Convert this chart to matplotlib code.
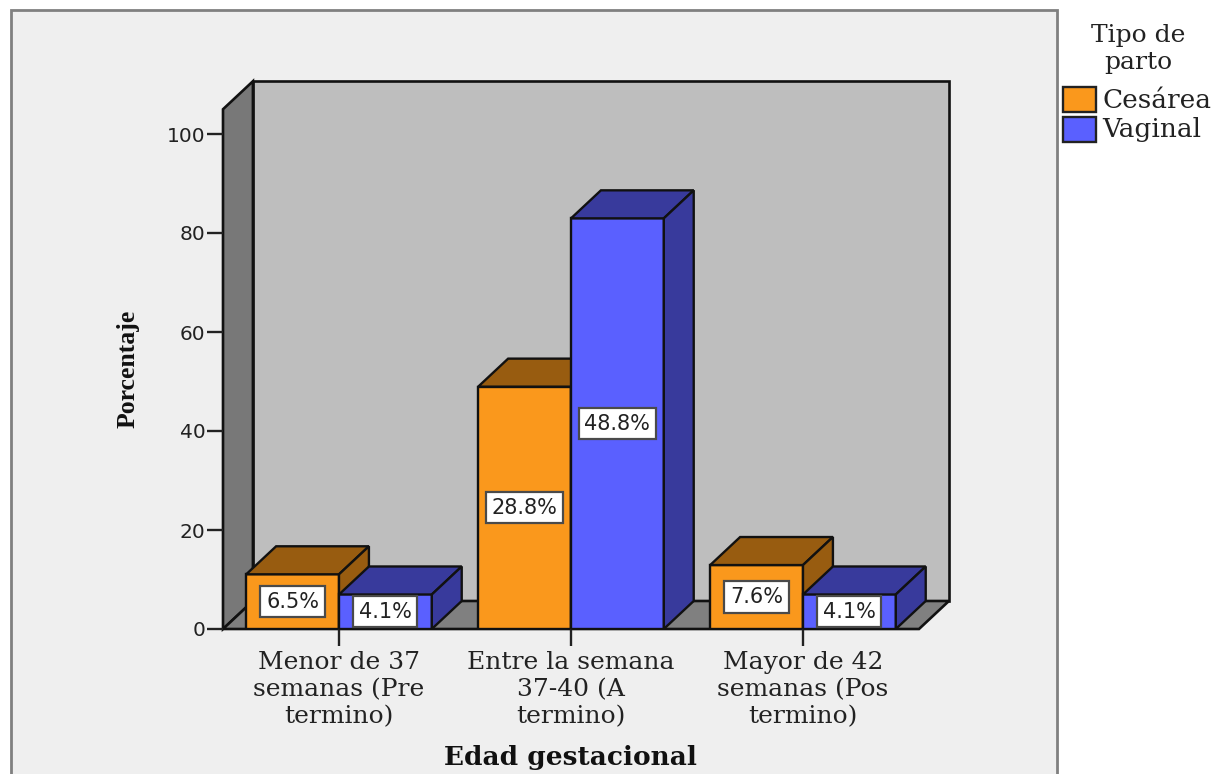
"""
plot.py

Pseudo-3D clustered bars: type of delivery by gestational age.
"""

import numpy as np
import matplotlib
matplotlib.use('Agg')
import matplotlib.pyplot as plt
from matplotlib.patches import Polygon, Rectangle

# ─── Data ─────────────────────────────────────────────────────────────────────
CATEGORIES = ['Menor de 37\nsemanas (Pre\ntermino)',
              'Entre la semana\n37-40 (A\ntermino)',
              'Mayor de 42\nsemanas (Pos\ntermino)']
SERIES_NAMES = ['Cesárea', 'Vaginal']
CESAREA = [6.5, 28.8, 7.6]
VAGINAL = [4.1, 48.8, 4.1]
Y_TICKS = [0, 20, 40, 60, 80, 100]

# The bars sit on the axis at 1.7x the percentage printed on them
AXIS_PER_PERCENT = 1.7

# ─── Style ────────────────────────────────────────────────────────────────────
W, H = 1222, 774
BAR_WIDTH = 0.4
DEPTH_X = 0.129      # category units
DEPTH_Y = 5.66       # axis units
Y_MAX = 105

FRONT = ['#FA981C', '#5A60FF']
SHADE = ['#985C10', '#383A9C']
EDGE = '#111111'
SERIF = 'DejaVu Serif'


def fx(px):
    return px / W


def fy(px):
    return 1 - px / H


def draw_box(ax, left, value, front, shade):
    """Front face through ax.bar, then the top and side faces from the same value."""
    h = value * AXIS_PER_PERCENT
    right = left + BAR_WIDTH
    ax.bar(left, h, BAR_WIDTH, align='edge', color=front,
           edgecolor=EDGE, linewidth=1.7, zorder=3)
    top = [(left, h), (left + DEPTH_X, h + DEPTH_Y),
           (right + DEPTH_X, h + DEPTH_Y), (right, h)]
    side = [(right, 0), (right + DEPTH_X, DEPTH_Y),
            (right + DEPTH_X, h + DEPTH_Y), (right, h)]
    for pts in (top, side):
        ax.add_patch(Polygon(pts, closed=True, facecolor=shade, edgecolor=EDGE,
                             linewidth=1.7, zorder=3, clip_on=False))
    ax.text(left + BAR_WIDTH / 2, h / 2, f'{value}%', ha='center', va='center',
            fontsize=15, color='#222222', zorder=5,
            bbox=dict(boxstyle='square,pad=0.27', facecolor='white',
                      edgecolor='#4a4a4a', linewidth=1.6))


def run():
    fig = plt.figure(figsize=(W / 100, H / 100), dpi=100, facecolor='white')

    # Grey panel, its lower edge runs off the canvas
    fig.add_artist(Rectangle((fx(11), fy(800)), fx(1057 - 11), fy(10) - fy(800),
                             transform=fig.transFigure, facecolor='#EFEFEF',
                             edgecolor='#808080', linewidth=2, zorder=-1))

    ax = fig.add_axes([fx(223), fy(629), fx(919 - 223), fy(629 - 4.95 * Y_MAX) - fy(629)])
    ax.set_xlim(-0.5, 2.5)
    ax.set_ylim(0, Y_MAX)
    ax.patch.set_visible(False)
    for s in ax.spines.values():
        s.set_visible(False)

    # Box walls and floor
    x0, x1 = -0.5, 2.5
    wall = dict(closed=True, edgecolor=EDGE, linewidth=1.9, clip_on=False, zorder=1)
    ax.add_patch(Polygon([(x0 + DEPTH_X, DEPTH_Y), (x1 + DEPTH_X, DEPTH_Y),
                          (x1 + DEPTH_X, Y_MAX + DEPTH_Y), (x0 + DEPTH_X, Y_MAX + DEPTH_Y)],
                         facecolor='#BEBEBE', **wall))
    ax.add_patch(Polygon([(x0, 0), (x0 + DEPTH_X, DEPTH_Y),
                          (x0 + DEPTH_X, Y_MAX + DEPTH_Y), (x0, Y_MAX)],
                         facecolor='#787878', **wall))
    ax.add_patch(Polygon([(x0, 0), (x1, 0), (x1 + DEPTH_X, DEPTH_Y), (x0 + DEPTH_X, DEPTH_Y)],
                         facecolor='#808080', **wall))

    # Bars
    for i in range(len(CATEGORIES)):
        draw_box(ax, i - BAR_WIDTH, CESAREA[i], FRONT[0], SHADE[0])
        draw_box(ax, i, VAGINAL[i], FRONT[1], SHADE[1])

    # Axes
    ax.set_yticks(Y_TICKS)
    ax.set_yticklabels([str(t) for t in Y_TICKS], fontsize=14.5, color='#222222')
    ax.tick_params(axis='y', length=11.5, width=1.7, color='#222222', pad=1)
    ax.set_xticks(np.arange(len(CATEGORIES)))
    ax.set_xticklabels(CATEGORIES, fontsize=18, family=SERIF, color='#222222',
                       linespacing=1.22)
    ax.tick_params(axis='x', length=12, width=1.7, color='#222222', pad=4)

    fig.text(fx(128), fy(369), 'Porcentaje', rotation=90, ha='center', va='center',
             family='Liberation Serif', fontweight='bold', fontsize=18.5, color='#111111')
    fig.text(fx(570), fy(758), 'Edad gestacional', ha='center', va='center',
             family=SERIF, fontweight='bold', fontsize=19, color='#111111')

    # Legend
    fig.text(fx(1138), fy(49), 'Tipo de\nparto', ha='center', va='center',
             family=SERIF, fontsize=18, linespacing=1.25, color='#222222')
    for name, color, top in zip(SERIES_NAMES, FRONT, (87, 117)):
        fig.add_artist(Rectangle((fx(1063), fy(top + 25)), fx(33), fy(top) - fy(top + 25),
                                 transform=fig.transFigure, facecolor=color,
                                 edgecolor='#222222', linewidth=1.7))
        fig.text(fx(1102), fy(top + 13), name, ha='left', va='center',
                 family=SERIF, fontsize=19, color='#222222')

    fig.savefig('out.png', dpi=100)
    plt.close(fig)


if __name__ == '__main__':
    run()
